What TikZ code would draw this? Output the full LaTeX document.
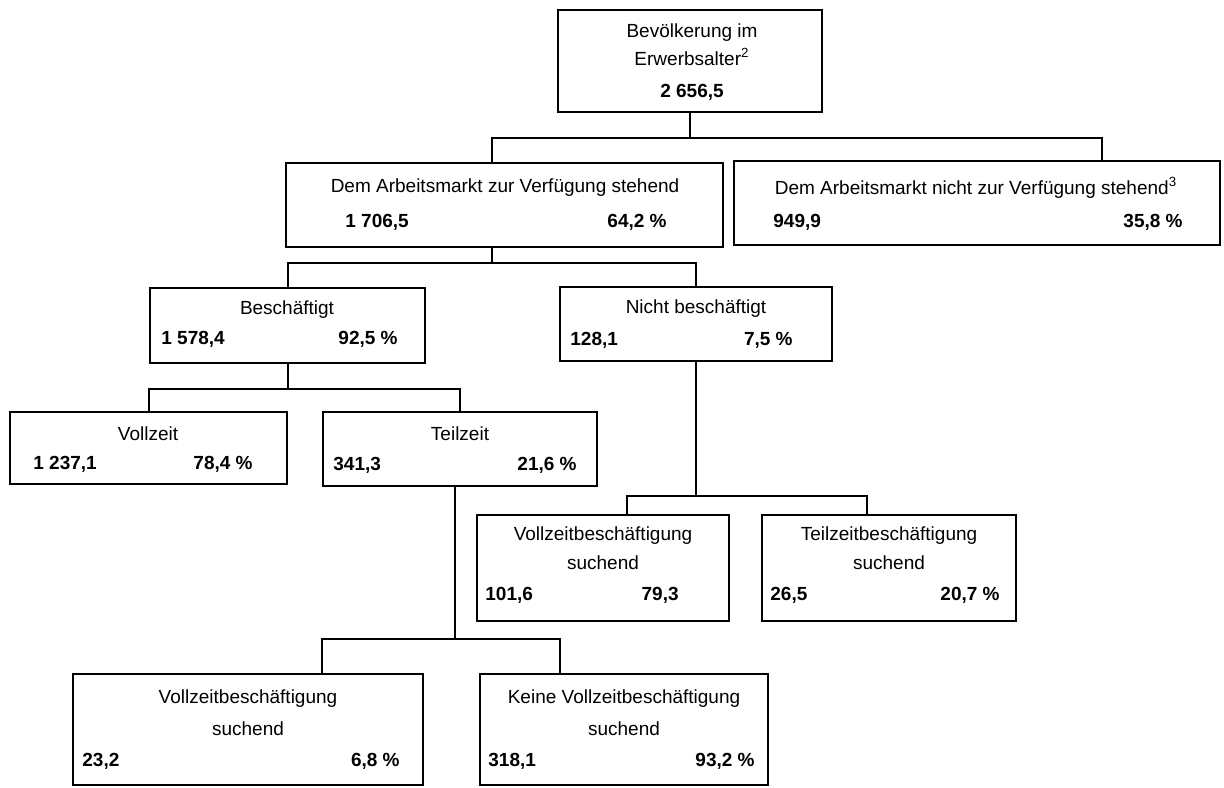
\documentclass[tikz,border=0pt]{standalone}
\usepackage{fontspec}
\setmainfont{Liberation Sans}
\usetikzlibrary{positioning, calc}

\begin{document}
\begin{tikzpicture}[
    x=0.5pt, y=-0.5pt,
    box/.style={draw, rectangle, line width=1.2pt, inner sep=0pt},
    conn/.style={line width=1pt},
    title_font/.style={font=\fontsize{9.5}{11}\selectfont, inner sep=0pt},
    num_font/.style={font=\fontsize{9.5}{11}\selectfont\bfseries, inner sep=0pt}
]
\useasboundingbox (0,0) rectangle (1224,787);

% 1. Kästen
\node[box, minimum width=132pt, minimum height=51pt] (pop) at (690,61) {};
\node[box, minimum width=218.5pt, minimum height=42pt] (avail) at (504.5,205) {};
\node[box, minimum width=243pt, minimum height=42pt] (navail) at (977,203) {};
\node[box, minimum width=137.5pt, minimum height=37.5pt] (empl) at (287.5,325.5) {};
\node[box, minimum width=136pt, minimum height=37pt] (unempl) at (696,324) {};
\node[box, minimum width=138.5pt, minimum height=36pt] (full) at (148.5,448) {};
\node[box, minimum width=137pt, minimum height=37pt] (part) at (460,449) {};
\node[box, minimum width=126pt, minimum height=53pt] (sfull) at (603,568) {};
\node[box, minimum width=127pt, minimum height=53pt] (spart) at (889,568) {};
\node[box, minimum width=175pt, minimum height=55.5pt] (lfull) at (248,729.5) {};
\node[box, minimum width=144pt, minimum height=55.5pt] (lnone) at (624,729.5) {};

% 2. Texte
\node[title_font] (pop_t1) at (692,33) {Bevölkerung im};
\node[title_font] (pop_t2) at (692,57) {Erwerbsalter\textsuperscript{2}};
\node[num_font] (pop_n) at (692,92) {2~656,5};

\node[title_font] (avail_t) at (505,188) {Dem Arbeitsmarkt zur Verfügung stehend};
\node[num_font, anchor=west] (avail_a) at (345,222) {1~706,5};
\node[num_font, anchor=east] (avail_p) at (667,222) {64,2~\%};

\node[title_font] (navail_t) at (976,188) {Dem Arbeitsmarkt nicht zur Verfügung stehend\textsuperscript{3}};
\node[num_font, anchor=west] (navail_a) at (773,222) {949,9};
\node[num_font, anchor=east] (navail_p) at (1183,222) {35,8~\%};

\node[title_font] (empl_t) at (287,310) {Beschäftigt};
\node[num_font, anchor=west] (empl_a) at (161,339) {1~578,4};
\node[num_font, anchor=east] (empl_p) at (398,339) {92,5~\%};

\node[title_font] (unempl_t) at (696,309) {Nicht beschäftigt};
\node[num_font, anchor=west] (unempl_a) at (570,340) {128,1};
\node[num_font, anchor=east] (unempl_p) at (793,340) {7,5~\%};

\node[title_font] (full_t) at (148,434) {Vollzeit};
\node[num_font, anchor=west] (full_a) at (33,464) {1~237,1};
\node[num_font, anchor=east] (full_p) at (253,464) {78,4~\%};

\node[title_font] (part_t) at (460,434) {Teilzeit};
\node[num_font, anchor=west] (part_a) at (333,465) {341,3};
\node[num_font, anchor=east] (part_p) at (577,465) {21,6~\%};

\node[title_font] (sfull_t1) at (603,536) {Vollzeitbeschäftigung};
\node[title_font] (sfull_t2) at (603,563) {suchend};
\node[num_font, anchor=west] (sfull_a) at (485,595) {101,6};
\node[num_font, anchor=east] (sfull_p) at (679,595) {79,3};

\node[title_font] (spart_t1) at (889,536) {Teilzeitbeschäftigung};
\node[title_font] (spart_t2) at (889,563) {suchend};
\node[num_font, anchor=west] (spart_a) at (770,595) {26,5};
\node[num_font, anchor=east] (spart_p) at (1000,595) {20,7~\%};

\node[title_font] (lfull_t1) at (248,699) {Vollzeitbeschäftigung};
\node[title_font] (lfull_t2) at (248,729) {suchend};
\node[num_font, anchor=west] (lfull_a) at (82,761) {23,2};
\node[num_font, anchor=east] (lfull_p) at (400,761) {6,8~\%};

\node[title_font] (lnone_t1) at (624,699) {Keine Vollzeitbeschäftigung};
\node[title_font] (lnone_t2) at (624,729) {suchend};
\node[num_font, anchor=west] (lnone_a) at (488,761) {318,1};
\node[num_font, anchor=east] (lnone_p) at (755,761) {93,2~\%};

% 3. Verbindungslinien
\draw[conn] (pop.south) -- ++(0,25) coordinate (j1);
\draw[conn] ([xshift=-6.25pt]avail.north) |- (j1) -| ([xshift=62.5pt]navail.north);

\draw[conn] ([xshift=-6.25pt]avail.south) -- ++(0,15) coordinate (j2);
\draw[conn] (empl.north) |- (j2) -| (unempl.north);

\draw[conn] (empl.south) -- ++(0,25) coordinate (j3);
\draw[conn] (full.north) |- (j3) -| (part.north);

\draw[conn] (unempl.south) -- ++(0,134) coordinate (j4);
\draw[conn] ([xshift=12pt]sfull.north) |- (j4) -| ([xshift=-11pt]spart.north);

\draw[conn] ([xshift=-2.5pt]part.south) -- ++(0,152) coordinate (j5);
\draw[conn] ([xshift=37pt]lfull.north) |- (j5) -| ([xshift=-32pt]lnone.north);

\end{tikzpicture}
\end{document}
